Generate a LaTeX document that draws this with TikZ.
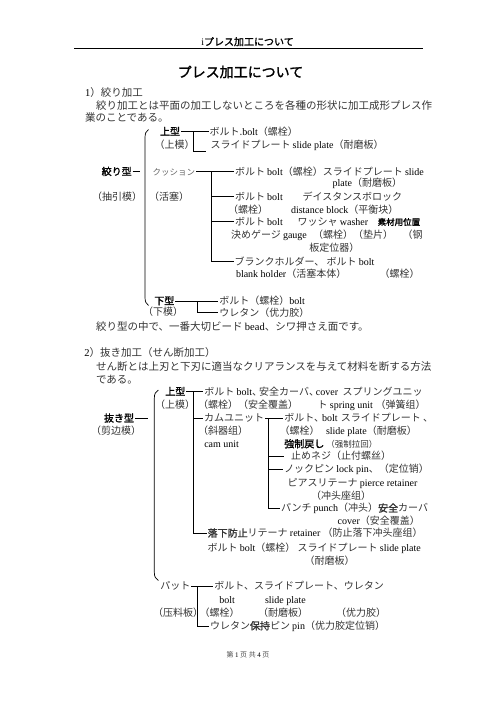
\documentclass[tikz,border=0pt]{standalone}
\usepackage{fontspec}
\usetikzlibrary{positioning}
\setmainfont{Liberation Serif}
\newfontfamily\jp{Noto Sans CJK JP}
\newfontfamily\jpb[FakeBold=1.5]{Noto Sans CJK JP}
\newcommand{\lat}[1]{{\rmfamily\color{black}#1}}

\begin{document}
\begin{tikzpicture}[x=1pt,y=-1pt,
    lbl/.style={anchor=west,inner sep=0pt,outer xsep=1pt,text height=8.5pt,text depth=1.5pt,
      font=\jp\fontsize{10}{12}\selectfont,text=black!80},
    big/.style={lbl,font=\jp\fontsize{10.5}{12}\selectfont},
    head/.style={lbl,font=\jpb\fontsize{10}{12}\selectfont,text=black},
    small/.style={lbl,font=\jp\fontsize{8.5}{10}\selectfont}]

      \useasboundingbox (0,0) rectangle (496,702);

      \node[font=\jpb\fontsize{10}{12}\selectfont] (hdr) at (247.5,41.7) {\lat{i}プレス加工について};
      \node[font=\jpb\fontsize{14}{16}\selectfont] (ttl) at (240.5,72) {プレス加工について};
      \coordinate (hl) at (74,48.3);
      \coordinate (hr) at (423,48.3);
      \draw[line width=0.9pt] (hl) -- (hr);

      \begin{scope}[every node/.style={lbl}]
        \node[big] (s1) at (84,92.7) {\lat{1}）絞り加工};
        \node[big] (p1) at (95,105.8) {絞り加工とは平面の加工しないところを各種の形状に加工成形プレス作};
        \node[big] (p2) at (84,118) {業のことである。};

        \node[head] (uA)  at (159,131.7)   {上型};
        \node (uAm) at (153.5,145)   {（上模）};
        \node (uB)  at (208.5,131.7) {ボルト.\lat{bolt}（螺栓）};
        \node (uC)  at (209.5,145)   {スライドプレート \lat{slide plate}（耐磨板）};
        \node[head] (dk)  at (100.7,171.7) {絞り型};
        \node (dkm) at (91,196.7)    {（抽引模）};
        \node[small,text=black!60] (ks) at (151.7,171.7) {クッション};
        \node (ksm) at (148,196.7)   {（活塞）};
        \node (k1)  at (234,171.7)   {ボルト \lat{bolt}（螺栓）スライドプレート \lat{slide}};
        \node (k1b) at (331.7,183.3) {\lat{plate}（耐磨板）};
        \node (k2)  at (234,196.7)   {ボルト \lat{bolt}};
        \node (k2b) at (301.7,196.7) {デイスタンスボロック};
        \node (k2c) at (227,210)     {（螺栓）};
        \node (k2d) at (290,210)     {\lat{distance block}（平衡块）};
        \node (k3)  at (234,221.7)   {ボルト \lat{bolt}};
        \node (k3b) at (296.7,221.7) {ワッシャ \lat{washer}};
        \node[head,font=\jpb\fontsize{8.5}{10}\selectfont] (k3c) at (376.7,221.7) {素材用位置};
        \node (k3d) at (230,235)     {決めゲージ};
        \node (k3e) at (282,235)     {\lat{gauge}};
        \node (k3f) at (312,235)     {（螺栓）（垫片）};
        \node (k3g) at (401.5,235)   {（钢};
        \node (k3h) at (308.3,248.3) {板定位器）};
        \node (k4)  at (233.5,261.7) {ブランクホルダー、 ボルト \lat{bolt}};
        \node (k4b) at (235,274.3)   {\lat{blank holder}（活塞本体）};
        \node (k4c) at (378.5,274.3) {（螺栓）};
        \node[head] (xA)  at (153.3,301)   {下型};
        \node (xAm) at (142,311.7)   {（下模）};
        \node (xB)  at (218.3,301)   {ボルト（螺栓）\lat{bolt}};
        \node (xC)  at (218.3,312.7) {ウレタン（优力胶）};
        \node[big] (n1) at (95,326.7) {絞り型の中で、一番大切ビード \lat{bead}、シワ押さえ面です。};

        \node[big] (s2) at (83.3,353.3) {\lat{2}）抜き加工（せん断加工）};
        \node[big] (p3) at (95,366.7) {せん断とは上刃と下刃に適当なクリアランスを与えて材料を断する方法};
        \node[big] (p4) at (95,380) {である。};

        \node[head] (nA) at (164.3,391.7) {上型};
        \node (nAm) at (154,405)     {（上模）};
        \node (nB)  at (203.3,391.7) {ボルト \lat{bolt}、\kern-3pt安全カーバ、\kern-3pt\lat{cover}};
        \node[anchor=east] (nB2) at (423.5,391.7) {スプリングユニッ};
        \node (nBm) at (197,405)     {（螺栓）（安全覆盖）};
        \node (nB3) at (316.7,405)   {ト \lat{spring unit}};
        \node[anchor=east] (nB4) at (426.5,405) {（弹簧组）};
        \node[head] (nK) at (103,418.3) {抜き型};
        \node (nKm) at (90,431.3)    {（剪边模）};
        \node (nC)  at (203,418.3)   {カムユニット};
        \node (nCm) at (197,431.3)   {（斜器组）};
        \node (nCu) at (203.3,444)   {\lat{cam unit}};
        \node (nD)  at (283.3,418.3) {ボルト、\kern-2pt\lat{bolt}};
        \node[anchor=east] (nD2) at (434,418.3) {スライドプレート 、};
        \node (nDm) at (278.5,431.3) {（螺栓）};
        \node (nDm2) at (325,431.3)  {\lat{slide plate}（耐磨板）};
        \node[head] (nD3) at (283.3,444) {強制戻し};
        \node[small,right=0pt of nD3] (nD4) {（强制拉回）};
        \node (nE)  at (290,456)     {止めネジ（止付螺丝）};
        \node (nF)  at (283.3,469.3) {ノックピン \lat{lock pin}、（定位销）};
        \node (nF2) at (286.7,482.7) {ピアスリテーナ \lat{pierce retainer}};
        \node (nF3) at (310,496)     {（冲头座组）};
        \node (nG)  at (280,508.3)   {パンチ \lat{punch}（冲头）{\jpb 安全}カーバ};
        \node (nG2) at (336.7,520.7) {\lat{cover}（安全覆盖）};
        \node (nH)  at (206.7,533.3) {{\jpb 落下防止}リテーナ \lat{retainer} （防止落下冲头座组）};
        \node (nH2) at (206.7,548.3) {ボルト \lat{bolt}（螺栓） スライドプレート \lat{slide plate}};
        \node (nH3) at (303.5,560.7) {（耐磨板）};
        \node (nP)  at (159.3,586)   {パット};
        \node (nQ)  at (213.3,586)   {ボルト、スライドプレート、ウレタン};
        \node (nQ2) at (218.3,600)   {\lat{bolt}};
        \node (nQ3) at (264,600)     {\lat{slide plate}};
        \node (nPm) at (152,612.7)   {（压料板）};
        \node (nQ4) at (198.5,612.7) {（螺栓）};
        \node (nQ5) at (257,612.7)   {（耐磨板）};
        \node (nQ6) at (335,612.7)   {（优力胶）};
        \node (nR)  at (209,626)     {ウレタン{\jpb 保持}ピン \lat{pin}（优力胶定位销）};
      \end{scope}

      \node[font=\jp\fontsize{7}{8}\selectfont,text=black!70] (ft) at (248,655) {第 \lat{1} 页 共 \lat{4} 页};

      \begin{scope}[line width=0.7pt]
        \coordinate (jA)  at (193.3,131.7);
        \coordinate (eA)  at (206,151);
        \coordinate (dkE) at (140,171.7);
        \coordinate (jK)  at (211,171.7);
        \coordinate (jX)  at (197.3,301);
        \draw (uA) -- (uB);
        \draw (jA) |- (eA);
        \draw (dk) -- (dkE);
        \draw (ks) -- (k1);
        \draw (jK) |- (k4.west);
        \draw (jK |- k2.west) -- (k2.west);
        \draw (jK |- k3.west) -- (k3.west);
        \draw (xA) -- (xB);
        \draw (jX) |- (xC.west);
        \draw (148.5,129.5) .. controls (146,131) and (145,133.5) .. (145,138) -- (145,297)
          .. controls (145,301.5) and (146,303.8) .. (148.5,305.5);

        \coordinate (jN)  at (193.3,391.7);
        \coordinate (nKE) at (148.3,418.3);
        \coordinate (jC)  at (268.3,418.3);
        \coordinate (eE)  at (284,456);
        \coordinate (jP)  at (197.3,586);
        \draw (nA) -- (nB);
        \draw (jN) |- (nH.west);
        \draw (jN |- nC.west) -- (nC.west);
        \draw (nK) -- (nKE);
        \draw (nC) -- (nD);
        \draw (jC) |- (nG.west);
        \draw (jC |- eE) -- (eE);
        \draw (jC |- nF.west) -- (nF.west);
        \draw (nP) -- (nQ);
        \draw (jP) |- (nR.west);
        \draw (158.3,390) .. controls (155.5,391.5) and (154.3,394) .. (154.3,398.5) -- (154.3,572)
          .. controls (154.3,576.5) and (155.5,579) .. (158.3,580.5);
      \end{scope}

    \end{tikzpicture}
\end{document}
